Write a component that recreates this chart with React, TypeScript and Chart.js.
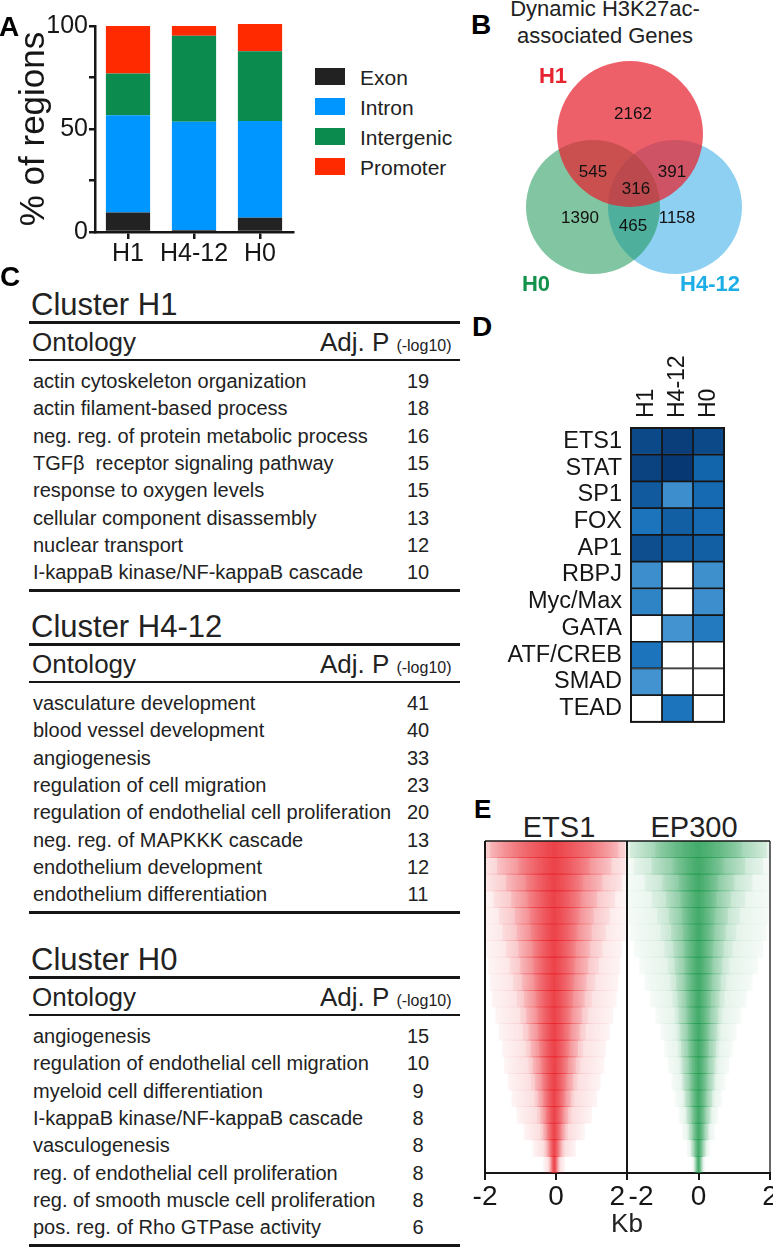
import React, { useEffect, useRef } from "react";
import { Chart, registerables } from "chart.js";
Chart.register(...registerables);

const FONT = "'Liberation Sans', Arial, Helvetica, sans-serif";
const INK = "#161616";
const TXT = "#222222";
Chart.defaults.font.family = FONT;
Chart.defaults.color = INK;

// ---------------- Panel A data ----------------
const regionCategories = ["H1", "H4-12", "H0"];
const regionTypes = ["Exon", "Intron", "Intergenic", "Promoter"];
const exonPct = [9.5, 1.0, 6.9];
const intronPct = [47.2, 52.5, 47.0];
const intergenicPct = [20.3, 41.8, 33.8];
const promoterPct = [23.0, 4.7, 13.3];
const regionColors = ["#222222", "#0096FF", "#0C8B4E", "#FF2A00"];
const yLabelledTicksA = [0, 50, 100];

// ---------------- Panel B data ----------------
const vennSets = ["H1", "H0", "H4-12"];
const vennFill = ["rgba(232,35,47,0.72)", "rgba(25,150,85,0.55)", "rgba(50,170,230,0.55)"];
const vennLabelColors = ["#E8232F", "#12924A", "#1DAEE8"];
const vennCenterX = [170, 133, 215];
const vennCenterY = [84, 157, 157];
const vennRadius = [73, 67, 67];
const vennSetLabelX = [93, 76, 250];
const vennSetLabelY = [25, 233, 233];
const vennCounts = [2162, 545, 391, 316, 1390, 465, 1158];
const vennCountX = [173, 133, 212, 176, 120, 173, 217];
const vennCountY = [63, 121, 121, 138, 167, 175, 167];

// ---------------- Panel C data ----------------
const h1Terms = [
  "actin cytoskeleton organization",
  "actin filament-based process",
  "neg. reg. of protein metabolic process",
  "TGF\u03B2  receptor signaling pathway",
  "response to oxygen levels",
  "cellular component disassembly",
  "nuclear transport",
  "I-kappaB kinase/NF-kappaB cascade",
];
const h1AdjP = [19, 18, 16, 15, 15, 13, 12, 10];
const h412Terms = [
  "vasculature development",
  "blood vessel development",
  "angiogenesis",
  "regulation of cell migration",
  "regulation of endothelial cell proliferation",
  "neg. reg. of MAPKKK cascade",
  "endothelium development",
  "endothelium differentiation",
];
const h412AdjP = [41, 40, 33, 23, 20, 13, 12, 11];
const h0Terms = [
  "angiogenesis",
  "regulation of endothelial cell migration",
  "myeloid cell differentiation",
  "I-kappaB kinase/NF-kappaB cascade",
  "vasculogenesis",
  "reg. of endothelial cell proliferation",
  "reg. of smooth muscle cell proliferation",
  "pos. reg. of Rho GTPase activity",
];
const h0AdjP = [15, 10, 9, 8, 8, 8, 8, 6];

// ---------------- Panel D data ----------------
const motifs = ["ETS1", "STAT", "SP1", "FOX", "AP1", "RBPJ", "Myc/Max", "GATA", "ATF/CREB", "SMAD", "TEAD"];
const motifColumns = ["H1", "H4-12", "H0"];
const motifScoreH1 = [8.5, 9, 7, 4.5, 8, 2, 3, 0, 4.5, 1.5, 0];
const motifScoreH412 = [9.5, 10, 2, 6.5, 7, 0, 0, 1.5, 0, 0, 4.5];
const motifScoreH0 = [8.5, 6, 5.5, 5.5, 6.5, 1.8, 2, 4, 0, 0, 0];

// ---------------- Panel E data ----------------
const profileRows = ["1", "2", "3", "4", "5", "6", "7", "8", "9", "10", "11", "12", "13", "14", "15", "16", "17", "18", "19", "20"];
const kbTicks = [-2, 0, 2];
const ets1Outer = [2.0, 2.0, 2.0, 2.0, 2.0, 2.0, 1.9, 1.85, 1.8, 1.75, 1.65, 1.55, 1.45, 1.4, 1.3, 1.2, 1.05, 0.85, 0.6, 0.3];
const ets1Mid = [2.0, 2.0, 1.9, 1.7, 1.55, 1.45, 1.35, 1.25, 1.15, 1.05, 0.95, 0.88, 0.8, 0.72, 0.65, 0.55, 0.47, 0.38, 0.28, 0.16];
const ets1Core = [2.0, 1.6, 1.35, 1.2, 1.1, 1.05, 1.0, 0.95, 0.9, 0.85, 0.78, 0.72, 0.66, 0.6, 0.53, 0.46, 0.38, 0.3, 0.21, 0.12];
const ets1Inner = [1.8, 1.0, 0.8, 0.75, 0.7, 0.65, 0.6, 0.58, 0.55, 0.52, 0.48, 0.45, 0.42, 0.38, 0.34, 0.3, 0.25, 0.2, 0.14, 0.08];
const ep300Outer = [2.0, 2.0, 2.0, 2.0, 1.95, 1.9, 1.8, 1.65, 1.5, 1.35, 1.2, 1.05, 0.95, 0.85, 0.75, 0.65, 0.55, 0.45, 0.32, 0.18];
const ep300Mid = [2.0, 1.8, 1.5, 1.3, 1.15, 1.05, 0.95, 0.85, 0.78, 0.72, 0.66, 0.6, 0.56, 0.52, 0.48, 0.42, 0.36, 0.3, 0.22, 0.13];
const ep300Core = [1.9, 1.3, 1.0, 0.9, 0.82, 0.76, 0.7, 0.66, 0.62, 0.58, 0.55, 0.52, 0.48, 0.45, 0.42, 0.37, 0.32, 0.26, 0.19, 0.11];
const ep300Inner = [1.2, 0.7, 0.55, 0.5, 0.46, 0.43, 0.4, 0.38, 0.36, 0.34, 0.32, 0.3, 0.28, 0.26, 0.24, 0.22, 0.19, 0.16, 0.12, 0.07];

// ---------------- helpers ----------------
function ChartCanvas(props: { left: number; top: number; width: number; height: number; make: () => any }) {
  const ref = useRef<HTMLCanvasElement>(null);
  useEffect(() => {
    const chart = new Chart(ref.current as HTMLCanvasElement, props.make());
    return () => chart.destroy();
  }, []);
  return (
    <canvas
      ref={ref}
      width={props.width}
      height={props.height}
      style={{ position: "absolute", left: props.left, top: props.top, width: props.width, height: props.height }}
    />
  );
}

function Txt(props: { x: number; y: number; size: number; bold?: boolean; color?: string; align?: "left" | "center" | "right"; w?: number; children: any }) {
  const { x, y, size, bold, color, align = "left", w = 400 } = props;
  const top = y - 0.8465 * size;
  let left = x;
  if (align === "center") left = x - w / 2;
  else if (align === "right") left = x - w;
  return (
    <div
      style={{
        position: "absolute",
        left,
        top,
        width: align === "left" ? undefined : w,
        fontSize: size,
        lineHeight: `${size}px`,
        fontWeight: bold ? 700 : 400,
        color: color || TXT,
        textAlign: align,
        whiteSpace: "pre",
      }}
    >
      {props.children}
    </div>
  );
}

function HLine(props: { x1: number; x2: number; y: number; t: number }) {
  return (
    <div style={{ position: "absolute", left: props.x1, top: props.y - props.t / 2, width: props.x2 - props.x1, height: props.t, background: INK }} />
  );
}

const baseOpts = {
  responsive: false,
  animation: false,
  devicePixelRatio: 1,
  events: [],
};

// ---------------- Panel A ----------------
function makeRegionChart() {
  const series = [exonPct, intronPct, intergenicPct, promoterPct];
  return {
    type: "bar",
    data: {
      labels: regionCategories,
      datasets: series.map((d, i) => ({
        label: regionTypes[i],
        data: d,
        backgroundColor: regionColors[i],
        borderWidth: 0,
        barPercentage: 0.67,
        categoryPercentage: 1,
        clip: false,
      })),
    },
    options: {
      ...baseOpts,
      layout: { padding: { top: 26, right: 7, left: 0, bottom: 0 } },
      plugins: { legend: { display: false }, tooltip: { enabled: false } },
      scales: {
        x: {
          stacked: true,
          grid: { offset: false, drawOnChartArea: false, tickLength: 7, color: INK, lineWidth: 2.5 },
          border: { color: INK, width: 2.5 },
          ticks: { font: { size: 25 }, color: INK, padding: 0, maxRotation: 0, minRotation: 0, autoSkip: false },
          afterFit: (s: any) => { s.height = 48; },
        },
        y: {
          stacked: true,
          min: 0,
          max: 100,
          grid: { drawOnChartArea: false, tickLength: 6, color: INK, lineWidth: 2.5 },
          border: { color: INK, width: 2.5 },
          ticks: {
            stepSize: 25,
            font: { size: 25 },
            color: INK,
            padding: 1,
            callback: (v: number) => (yLabelledTicksA.includes(v) ? String(v) : ""),
          },
          title: { display: true, text: "% of regions", font: { size: 35 }, color: INK, padding: { top: 13, bottom: 0 } },
          afterFit: (s: any) => { s.width = 95; },
        },
      },
    },
  };
}

// ---------------- Panel B ----------------
function makeVennChart() {
  const textPlugin = {
    id: "vennText",
    afterDatasetsDraw(chart: any) {
      const { ctx, scales } = chart;
      const xs = scales.x, ys = scales.y;
      ctx.save();
      ctx.textAlign = "center";
      ctx.textBaseline = "alphabetic";
      ctx.fillStyle = "#111";
      ctx.font = `17px ${FONT}`;
      vennCounts.forEach((c, i) => {
        ctx.fillText(String(c), xs.getPixelForValue(vennCountX[i]), ys.getPixelForValue(vennCountY[i]) + 6);
      });
      ctx.font = `bold 22px ${FONT}`;
      vennSets.forEach((s, i) => {
        ctx.fillStyle = vennLabelColors[i];
        ctx.fillText(s, xs.getPixelForValue(vennSetLabelX[i]), ys.getPixelForValue(vennSetLabelY[i]) + 8);
      });
      ctx.restore();
    },
  };
  return {
    type: "bubble",
    data: {
      datasets: vennSets.map((s, i) => ({
        label: s,
        data: [{ x: vennCenterX[i], y: vennCenterY[i], r: vennRadius[i] }],
        backgroundColor: vennFill[i],
        borderWidth: 0,
        clip: false,
      })),
    },
    options: {
      ...baseOpts,
      layout: { padding: 0, autoPadding: false },
      plugins: { legend: { display: false }, tooltip: { enabled: false } },
      scales: {
        x: { display: false, min: 0, max: 313 },
        y: { display: false, min: 0, max: 250, reverse: true },
      },
    },
    plugins: [textPlugin],
  };
}

// ---------------- Panel D ----------------
function heatColor(v: number) {
  if (v <= 0) return "#ffffff";
  const a = [72, 152, 210], b = [22, 112, 185], c = [8, 56, 115];
  let p, q, t;
  if (v <= 5) { p = a; q = b; t = (v - 1) / 4; } else { p = b; q = c; t = (v - 5) / 5; }
  t = Math.max(0, Math.min(1, t));
  const m = p.map((x, k) => Math.round(x + (q[k] - x) * t));
  return `rgb(${m[0]},${m[1]},${m[2]})`;
}

function makeMotifChart() {
  const scores = [motifScoreH1, motifScoreH412, motifScoreH0];
  const framePlugin = {
    id: "frameD",
    afterDatasetsDraw(chart: any) {
      const { ctx, chartArea: ca, scales } = chart;
      ctx.save();
      ctx.strokeStyle = INK;
      ctx.lineWidth = 2;
      ctx.strokeRect(ca.left, ca.top, ca.right - ca.left, ca.bottom - ca.top);
      ctx.fillStyle = INK;
      ctx.font = `23px ${FONT}`;
      ctx.textAlign = "left";
      ctx.textBaseline = "middle";
      motifColumns.forEach((col, c) => {
        const x = scales.x.getPixelForValue(c + 0.5);
        ctx.save();
        ctx.translate(x, ca.top - 10);
        ctx.rotate(-Math.PI / 2);
        ctx.fillText(col, 0, 0);
        ctx.restore();
      });
      ctx.restore();
    },
  };
  return {
    type: "bar",
    data: {
      labels: motifs,
      datasets: motifColumns.map((col, c) => ({
        label: col,
        data: motifs.map(() => [c, c + 1]),
        backgroundColor: scores[c].map(heatColor),
        borderColor: INK,
        borderWidth: 1.2,
        borderSkipped: false,
        grouped: false,
        barPercentage: 1,
        categoryPercentage: 1,
      })),
    },
    options: {
      ...baseOpts,
      indexAxis: "y",
      layout: { padding: { top: 83, right: 16, bottom: 11, left: 0 } },
      plugins: { legend: { display: false }, tooltip: { enabled: false } },
      scales: {
        x: { display: false, min: 0, max: 3 },
        y: {
          grid: { display: false, drawTicks: false },
          border: { display: false },
          ticks: { font: { size: 23.5 }, color: INK, padding: 9, autoSkip: false },
          afterFit: (s: any) => { s.width = 171; },
        },
      },
    },
    plugins: [framePlugin],
  };
}

// ---------------- Panel E ----------------
function makeProfileChart(layers: number[][], rgb: string, alphas: number[], center: number, tickText: string[], leftEdge: boolean, rightWidth: number, padding: any) {
  const framePlugin = {
    id: "frameE",
    afterDatasetsDraw(chart: any) {
      const { ctx, chartArea: ca } = chart;
      ctx.save();
      ctx.strokeStyle = INK;
      ctx.lineWidth = 1.3;
      ctx.beginPath();
      ctx.moveTo(ca.left, ca.top);
      ctx.lineTo(ca.right, ca.top);
      ctx.stroke();
      if (leftEdge) {
        ctx.lineWidth = 2;
        ctx.beginPath();
        ctx.moveTo(ca.left, ca.top);
        ctx.lineTo(ca.left, ca.bottom);
        ctx.stroke();
      }
      ctx.lineWidth = rightWidth;
      ctx.beginPath();
      ctx.moveTo(ca.right, ca.top);
      ctx.lineTo(ca.right, ca.bottom);
      ctx.stroke();
      ctx.restore();
    },
  };
  const gradientFill = (a: number) => (c: any) => {
    const chart = c.chart;
    const xs = chart.scales && chart.scales.x;
    const flat = `rgba(${rgb},${a})`;
    if (!xs || !chart.chartArea || !c.raw || !Array.isArray(c.raw)) return flat;
    const x0 = xs.getPixelForValue(c.raw[0]);
    const x1 = xs.getPixelForValue(c.raw[1]);
    if (!(x1 - x0 > 1) || !isFinite(x0) || !isFinite(x1)) return flat;
    const g = chart.ctx.createLinearGradient(x0, 0, x1, 0);
    g.addColorStop(0, `rgba(${rgb},${a * 0.2})`);
    g.addColorStop(0.5, `rgba(${rgb},${a})`);
    g.addColorStop(1, `rgba(${rgb},${a * 0.2})`);
    return g;
  };
  return {
    type: "bar",
    data: {
      labels: profileRows,
      datasets: layers.map((w, k) => ({
        label: "layer" + k,
        data: w.map((v) => [center - v, center + v]),
        backgroundColor: gradientFill(alphas[k]),
        borderWidth: 0,
        grouped: false,
        barPercentage: 1,
        categoryPercentage: 1,
      })),
    },
    options: {
      ...baseOpts,
      indexAxis: "y",
      layout: { padding },
      plugins: { legend: { display: false }, tooltip: { enabled: false } },
      scales: {
        y: { display: false },
        x: {
          min: -2,
          max: 2,
          grid: { drawOnChartArea: false, tickLength: 7, color: INK, lineWidth: 2 },
          border: { color: INK, width: 2 },
          ticks: {
            stepSize: 2,
            font: { size: 28 },
            color: INK,
            padding: 0,
            maxRotation: 0,
            autoSkip: false,
            callback: (v: number) => tickText[kbTicks.indexOf(v)],
          },
          afterFit: (s: any) => { s.height = 40; },
        },
      },
    },
    plugins: [framePlugin],
  };
}

function ClusterTable(props: { title: string; terms: string[]; values: number[]; base: number }) {
  const T = props.base;
  const rowStep = 27.3;
  return (
    <>
      <Txt x={31} y={T} size={31}>{props.title}</Txt>
      <HLine x1={29} x2={460} y={T + 7} t={3} />
      <Txt x={32} y={T + 36} size={26}>Ontology</Txt>
      <div
        style={{
          position: "absolute",
          left: 320,
          top: T + 36 - 0.8465 * 26,
          fontSize: 26,
          lineHeight: "26px",
          color: TXT,
          whiteSpace: "pre",
        }}
      >
        Adj. P<span style={{ fontSize: 16, marginLeft: 7 }}>(-log10)</span>
      </div>
      <HLine x1={29} x2={460} y={T + 45} t={2.5} />
      {props.terms.map((term, i) => (
        <Txt key={"t" + i} x={33} y={T + 73 + i * rowStep} size={20}>{term}</Txt>
      ))}
      {props.values.map((v, i) => (
        <Txt key={"v" + i} x={418} y={T + 73 + i * rowStep} size={20} align="center" w={60}>{String(v)}</Txt>
      ))}
      <HLine x1={29} x2={460} y={T + 275} t={3} />
    </>
  );
}

export default function App() {
  const legendRowsY = [68, 98, 128, 158];
  return (
    <div
      style={{
        position: "absolute",
        left: 0,
        top: 0,
        width: 773,
        height: 1247,
        overflow: "hidden",
        background: "#ffffff",
        fontFamily: FONT,
        color: TXT,
      }}
    >
      {/* Panel A */}
      <ChartCanvas left={0} top={0} width={300} height={280} make={makeRegionChart} />
      <Txt x={-1} y={37} size={28} bold color="#000">A</Txt>
      {regionTypes.map((t, i) => (
        <React.Fragment key={t}>
          <div style={{ position: "absolute", left: 315, top: legendRowsY[i], width: 30, height: 17, background: regionColors[i] }} />
          <Txt x={360} y={legendRowsY[i] + 17} size={21}>{t}</Txt>
        </React.Fragment>
      ))}

      {/* Panel B */}
      <Txt x={471} y={35} size={28} bold color="#000">B</Txt>
      <div
        style={{
          position: "absolute",
          left: 505,
          top: -4,
          width: 200,
          fontSize: 22,
          lineHeight: "26.5px",
          textAlign: "center",
          color: TXT,
        }}
      >
        Dynamic H3K27ac-
        <br />
        associated Genes
      </div>
      <ChartCanvas left={460} top={50} width={313} height={250} make={makeVennChart} />

      {/* Panel C */}
      <Txt x={0} y={287} size={28} bold color="#000">C</Txt>
      <ClusterTable title="Cluster H1" terms={h1Terms} values={h1AdjP} base={315} />
      <ClusterTable title="Cluster H4-12" terms={h412Terms} values={h412AdjP} base={637} />
      <ClusterTable title="Cluster H0" terms={h0Terms} values={h0AdjP} base={970} />

      {/* Panel D */}
      <Txt x={472} y={337} size={28} bold color="#000">D</Txt>
      <ChartCanvas left={460} top={345} width={280} height={400} make={makeMotifChart} />

      {/* Panel E */}
      <Txt x={474} y={818} size={26} bold color="#000">E</Txt>
      <Txt x={559} y={838} size={29} align="center" w={140}>ETS1</Txt>
      <Txt x={694} y={838} size={29} align="center" w={140}>EP300</Txt>
      <ChartCanvas
        left={455}
        top={800}
        width={200}
        height={440}
        make={() =>
          makeProfileChart(
            [ets1Outer, ets1Mid, ets1Core, ets1Inner],
            "232,28,36",
            [0.24, 0.3, 0.45, 0.42],
            -0.05,
            ["-2", "0", "2\u2002\u2009"],
            true,
            2,
            { left: 30, top: 41, right: 28, bottom: 27 }
          )
        }
      />
      <ChartCanvas
        left={595}
        top={800}
        width={205}
        height={440}
        make={() =>
          makeProfileChart(
            [ep300Outer, ep300Mid, ep300Core, ep300Inner],
            "22,150,70",
            [0.2, 0.28, 0.42, 0.42],
            0,
            ["\u2002\u2002-2", "0", "2"],
            false,
            1.3,
            { left: 32, top: 41, right: 30, bottom: 27 }
          )
        }
      />
      <Txt x={627} y={1232} size={26} align="center" w={80}>Kb</Txt>
    </div>
  );
}
